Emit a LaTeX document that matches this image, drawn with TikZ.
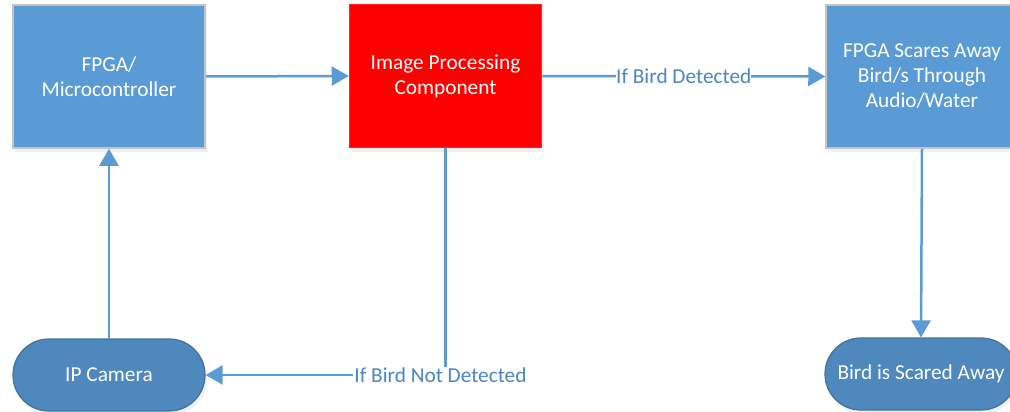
\documentclass[tikz,border=0pt]{standalone}
\usepackage{fontspec}
\setmainfont{Carlito}
\usetikzlibrary{arrows.meta,shadows}
\definecolor{boxblue}{HTML}{5B9BD5}
\definecolor{termblue}{HTML}{4F88BC}
\definecolor{termedge}{HTML}{41719C}
\definecolor{edgegray}{HTML}{C3C3C3}
\definecolor{lblblue}{HTML}{4A86C2}
\definecolor{lineblue}{HTML}{5B9BD5}
\tikzset{
  procbox/.style={rectangle, minimum width=192pt, minimum height=143pt, align=center,
    text=white, font=\fontsize{21.3}{25}\selectfont, line width=1.5pt,
    drop shadow={opacity=0.12, shadow xshift=2pt, shadow yshift=-4pt}},
  bluebox/.style={procbox, fill=boxblue, draw=edgegray},
  redbox/.style={procbox, fill=red, draw=red!85!white},
  termbox/.style={rectangle, rounded corners=35.9pt, minimum width=192pt, minimum height=72pt,
    fill=termblue, draw=termedge, line width=1.2pt, text=white, align=center,
    font=\fontsize{21.3}{25}\selectfont,
    drop shadow={opacity=0.12, shadow xshift=2pt, shadow yshift=-4pt}},
  conn/.style={draw=lineblue, line width=2.5pt, -{Triangle[length=17pt,width=19pt]}},
  lbl/.style={fill=white, text=lblblue, inner sep=1pt, font=\fontsize{21.3}{25}\selectfont}
}
\begin{document}
\begin{tikzpicture}[x=1pt,y=-1pt]
\useasboundingbox (0,0) rectangle (1010,412);
\begin{scope}
\clip (0,0) rectangle (1010,412);
\node[bluebox] (fpga) at (109,76.5) {FPGA/\\Microcontroller};
\node[redbox] (img) at (445.5,76) {Image Processing\\Component};
\node[bluebox] (scare) at (922,76.5) {FPGA Scares Away\\Bird/s Through\\Audio/Water};
\node[termbox] (cam) at (109,375) {IP Camera};
\node[termbox] (bird) at (921,374) {Bird is Scared Away};
\draw[conn] (fpga.east) -- (img.west);
\draw[conn] (img.east) -- node[lbl, inner xsep=0pt] {If Bird Detected} (scare.west);
\draw[conn] (img.south) |- node[lbl, pos=0.5, xshift=-5pt] {If Bird Not Detected} (cam.east);
\draw[conn] (cam.north) -- (fpga.south);
\draw[conn] (scare.south) -- (bird.north);
\end{scope}
\end{tikzpicture}
\end{document}
